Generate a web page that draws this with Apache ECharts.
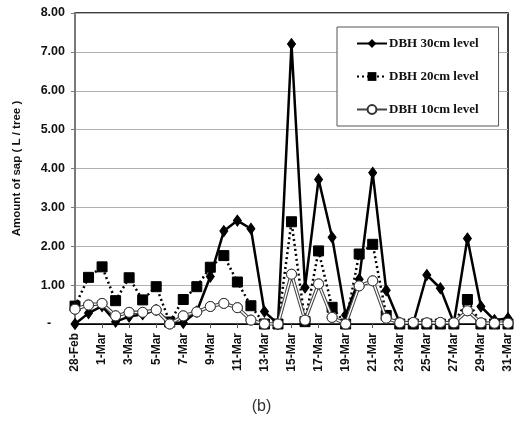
<!DOCTYPE html>
<html>
<head>
<meta charset="utf-8">
<script src="https://cdn.jsdelivr.net/npm/echarts@6/dist/echarts.min.js"></script>
<style>html,body{margin:0;padding:0;background:#fff}#c{width:523px;height:430px}</style>
</head>
<body>
<div id="c"></div>
<script>
const categories = ['28-Feb','29-Feb','1-Mar','2-Mar','3-Mar','4-Mar','5-Mar','6-Mar','7-Mar','8-Mar','9-Mar','10-Mar','11-Mar','12-Mar','13-Mar','14-Mar','15-Mar','16-Mar','17-Mar','18-Mar','19-Mar','20-Mar','21-Mar','22-Mar','23-Mar','24-Mar','25-Mar','26-Mar','27-Mar','28-Mar','29-Mar','30-Mar','31-Mar'];
const dbh30 = [0, 0.28, 0.46, 0.06, 0.19, 0.25, 0.36, 0.03, 0.03, 0.32, 1.22, 2.39, 2.66, 2.45, 0.32, 0, 7.2, 0.94, 3.72, 2.23, 0.23, 1.15, 3.89, 0.87, 0.03, 0.02, 1.26, 0.92, 0.03, 2.2, 0.45, 0.1, 0.15];
const dbh20 = [0.46, 1.2, 1.47, 0.6, 1.19, 0.62, 0.96, 0.05, 0.63, 0.96, 1.46, 1.76, 1.08, 0.47, 0, 0, 2.63, 0.06, 1.88, 0.43, 0, 1.8, 2.05, 0.22, 0, 0, 0, 0, 0, 0.63, 0, 0, 0];
const dbh10 = [0.38, 0.49, 0.53, 0.21, 0.3, 0.3, 0.36, 0, 0.21, 0.31, 0.45, 0.53, 0.42, 0.1, 0, 0, 1.28, 0.1, 1.03, 0.17, 0, 0.98, 1.11, 0.15, 0.03, 0.04, 0.03, 0.04, 0.03, 0.34, 0.03, 0.02, 0.02];
const seriesNames = ['DBH 30cm level', 'DBH 20cm level', 'DBH 10cm level'];
const yMin = 0, yMax = 8, yStep = 1;
const yAxisName = 'Amount of sap ( L / tree )';
const caption = '(b)';

const chart = echarts.init(document.getElementById('c'), null, {renderer: 'canvas'});
chart.setOption({
  animation: false,
  backgroundColor: '#fff',
  grid: {left: 75, right: 15, top: 13, bottom: 106, show: true, borderColor: '#000', borderWidth: 1.5, backgroundColor: 'transparent'},
  legend: {
    data: seriesNames,
    orient: 'vertical',
    left: 337, top: 27,
    padding: [10, 20, 10, 19],
    itemGap: 20,
    itemWidth: 30, itemHeight: 11,
    borderColor: '#555', borderWidth: 1,
    backgroundColor: '#fff',
    textStyle: {fontFamily: 'Liberation Serif', fontWeight: 'bold', fontSize: 13, color: '#111', padding: [0,0,0,-3]}
  },
  graphic: [{type: 'text', left: 'center', top: 399, style: {text: caption, fontSize: 16, fontFamily: 'Liberation Sans', fill: '#333'}}],
  xAxis: {
    type: 'category', data: categories, boundaryGap: false,
    axisLine: {lineStyle: {color: '#000', width: 1}},
    axisTick: {show: true, interval: 1, length: 4, lineStyle: {color: '#555'}},
    axisLabel: {interval: 1, rotate: 90, fontSize: 12, fontWeight: 'bold', fontFamily: 'Liberation Sans', color: '#111', margin: 9},
    splitLine: {show: false}
  },
  yAxis: {
    type: 'value', min: yMin, max: yMax, interval: yStep,
    name: yAxisName, nameLocation: 'middle', nameRotate: 90, nameGap: 52,
    nameTextStyle: {fontSize: 11.5, fontWeight: 'bold', fontFamily: 'Liberation Sans', color: '#111'},
    axisLine: {show: true, lineStyle: {color: '#7a7a7a', width: 2}},
    axisTick: {show: true, length: 4, lineStyle: {color: '#7a7a7a'}},
    axisLabel: {fontSize: 12.5, fontWeight: 'bold', fontFamily: 'Liberation Sans', color: '#111', margin: 10,
      formatter: v => v === 0 ? '-    ' : v.toFixed(2)},
    splitLine: {lineStyle: {color: '#b0b0b0', width: 1}}
  },
  series: [
    {name: seriesNames[0], type: 'line', data: dbh30, z: 2, showAllSymbol: true,
     lineStyle: {color: '#000', width: 2.5}, symbol: 'diamond', symbolSize: [8, 11],
     itemStyle: {color: '#000', borderColor: '#000'}},
    {name: seriesNames[1], type: 'line', data: dbh20, z: 3, showAllSymbol: true,
     lineStyle: {color: '#000', width: 2.5, type: [2, 3]}, symbol: 'rect', symbolSize: 10,
     itemStyle: {color: '#000', borderColor: '#000'}},
    {name: seriesNames[2], type: 'line', data: dbh10, z: 4, showAllSymbol: true,
     lineStyle: {color: '#444', width: 3.5}, symbol: 'circle', symbolSize: 10,
     itemStyle: {color: '#fff', borderColor: '#333', borderWidth: 1}},
    {name: 'w10', type: 'line', data: dbh10, z: 5, silent: true, showSymbol: false, symbol: 'none',
     lineStyle: {color: '#fff', width: 1.4}},
    {name: 'c10', type: 'line', data: dbh10, z: 6, silent: true, showAllSymbol: true, symbol: 'circle', symbolSize: 10,
     lineStyle: {opacity: 0, width: 0},
     itemStyle: {color: '#fff', borderColor: '#333', borderWidth: 1}}
  ]
});
</script>
</body>
</html>
